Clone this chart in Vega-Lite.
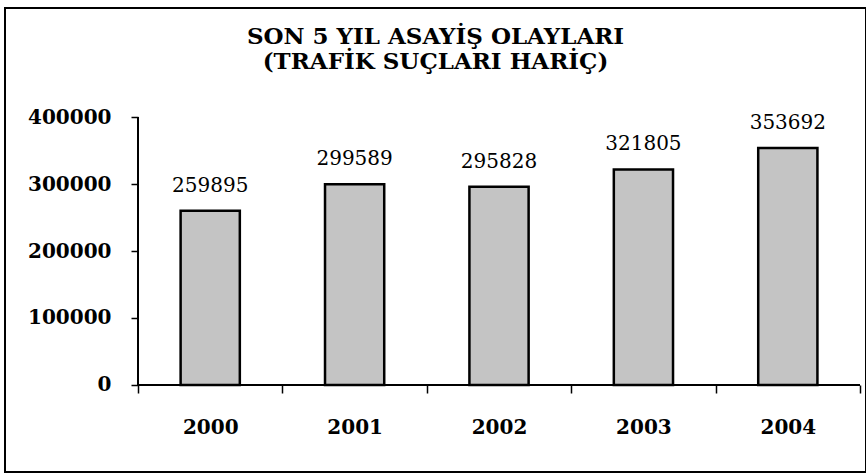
{
  "$schema": "https://vega.github.io/schema/vega-lite/v6.json",
  "width": 861,
  "height": 464,
  "autosize": "none",
  "padding": {"left": 5, "top": 8, "right": 0, "bottom": 2},
  "background": "white",
  "config": {
    "view": {"stroke": "black", "strokeWidth": 2},
    "font": "DejaVu Serif"
  },
  "title": {
    "text": ["SON 5 YIL ASAYİŞ OLAYLARI", "(TRAFİK SUÇLARI HARİÇ)"],
    "font": "DejaVu Serif",
    "fontSize": 23,
    "fontWeight": "bold",
    "lineHeight": 25,
    "offset": -66,
    "anchor": "middle",
    "color": "black"
  },
  "data": {
    "values": [
      {"year": "2000", "value": 259895},
      {"year": "2001", "value": 299589},
      {"year": "2002", "value": 295828},
      {"year": "2003", "value": 321805},
      {"year": "2004", "value": 353692}
    ]
  },
  "encoding": {
    "x": {
      "field": "year",
      "type": "nominal",
      "scale": {"paddingInner": 0, "paddingOuter": 0.4813, "align": 0.957},
      "axis": {
        "title": null,
        "orient": "bottom",
        "offset": -87,
        "domain": false,
        "tickBand": "extent",
        "tickSize": 8,
        "tickColor": "black",
        "tickWidth": 1.5,
        "labelFont": "DejaVu Serif",
        "labelFontWeight": "bold",
        "labelFontSize": 20,
        "labelColor": "black",
        "labelPadding": 24,
        "labelAngle": 0
      }
    }
  },
  "layer": [
    {
      "mark": {"type": "bar", "width": {"band": 0.41}, "fill": "#c4c4c4", "stroke": "black", "strokeWidth": 2.5},
      "encoding": {
        "y": {
          "field": "value",
          "type": "quantitative",
          "scale": {"domain": [-129851, 562687], "nice": false},
          "axis": {
            "title": null,
            "offset": -133,
            "values": [0, 100000, 200000, 300000, 400000],
            "format": "d",
            "domain": false,
            "grid": false,
            "tickSize": 7,
            "tickColor": "black",
            "tickWidth": 1.5,
            "labelFont": "DejaVu Serif",
            "labelFontWeight": "bold",
            "labelFontSize": 20,
            "labelColor": "black",
            "labelPadding": 20
          }
        }
      }
    },
    {
      "mark": {"type": "text", "baseline": "alphabetic", "dy": -19, "fontSize": 20, "font": "DejaVu Serif", "color": "black"},
      "encoding": {
        "y": {"field": "value", "type": "quantitative"},
        "text": {"field": "value", "type": "quantitative", "format": "d"}
      }
    },
    {
      "mark": {"type": "rule", "stroke": "black", "strokeWidth": 1.5},
      "encoding": {
        "x": {"datum": "2000", "type": "nominal", "bandPosition": 0},
        "y": {"datum": 0, "type": "quantitative"},
        "y2": {"datum": 400000}
      }
    },
    {
      "mark": {"type": "rule", "stroke": "black", "strokeWidth": 1.5},
      "encoding": {
        "x": {"datum": "2000", "type": "nominal", "bandPosition": 0},
        "x2": {"datum": "2004", "bandPosition": 1},
        "y": {"datum": 0, "type": "quantitative"}
      }
    }
  ]
}
